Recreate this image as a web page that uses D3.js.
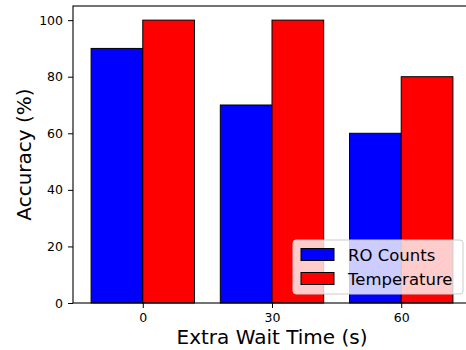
<!DOCTYPE html>
<html lang="en">
<head>
<meta charset="utf-8">
<script src="https://cdn.jsdelivr.net/npm/d3@7"></script>
<style>
  body { margin: 0; background: #fff; }
  text { font-family: "DejaVu Sans", sans-serif; }
</style>
</head>
<body>
<svg width="466" height="350"></svg>
<script>
// data
var categories = ["0", "30", "60"];
var roCounts = [90, 70, 60];
var temperature = [100, 100, 80];
var yTicks = [0, 20, 40, 60, 80, 100];
var seriesNames = ["RO Counts", "Temperature"];
var seriesColors = ["#0000ff", "#ff0000"];

// plot area (right side runs past the window edge like the original)
var box = {left: 73, top: 6, right: 471, bottom: 303};

var svg = d3.select("svg");

// x as numeric positions 0,1,2 with bars of width 0.4
var x = d3.scaleLinear().domain([-0.54, 2.54]).range([box.left, box.right]);
var y = d3.scaleLinear().domain([0, 105]).range([box.bottom, box.top]);
var bw = 0.4;

var rows = categories.map(function(c, i) {
  return { cat: c, i: i, vals: [roCounts[i], temperature[i]] };
});

// bars
var g = svg.append("g");
rows.forEach(function(r) {
  r.vals.forEach(function(v, s) {
    var x0 = x(r.i - bw + s * bw);
    g.append("rect")
      .attr("x", x0)
      .attr("y", y(v))
      .attr("width", x(r.i + s * bw) - x0)
      .attr("height", y(0) - y(v))
      .attr("fill", seriesColors[s])
      .attr("stroke", "#000")
      .attr("stroke-width", 1);
  });
});

// axes
var xAxis = d3.axisBottom(x)
  .tickValues(d3.range(categories.length))
  .tickFormat(function(d) { return categories[d]; })
  .tickSize(5).tickPadding(5);
var yAxis = d3.axisLeft(y).tickValues(yTicks).tickSize(5).tickPadding(5);

svg.append("g").attr("transform", "translate(0," + box.bottom + ")").call(xAxis)
  .call(function(a) { a.select(".domain").remove(); });
svg.append("g").attr("transform", "translate(" + box.left + ",0)").call(yAxis)
  .call(function(a) { a.select(".domain").remove(); });

svg.selectAll(".tick text").style("font-size", "12.5px").attr("fill", "#000");
svg.selectAll(".tick line").attr("stroke", "#000");

// frame
svg.append("rect")
  .attr("x", box.left).attr("y", box.top)
  .attr("width", box.right - box.left).attr("height", box.bottom - box.top)
  .attr("fill", "none").attr("stroke", "#000").attr("stroke-width", 1.1);

// axis labels
svg.append("text")
  .attr("x", (box.left + box.right) / 2).attr("y", 344)
  .attr("text-anchor", "middle")
  .style("font-size", "20px")
  .text("Extra Wait Time (s)");

svg.append("text")
  .attr("transform", "translate(31," + (box.top + box.bottom) / 2 + ") rotate(-90)")
  .attr("text-anchor", "middle")
  .style("font-size", "20px")
  .text("Accuracy (%)");

// legend
var leg = svg.append("g");
leg.append("rect")
  .attr("x", 293).attr("y", 240).attr("width", 170).attr("height", 54)
  .attr("rx", 3)
  .attr("fill", "#fff").attr("fill-opacity", 0.8)
  .attr("stroke", "#ccc").attr("stroke-width", 1);
seriesNames.forEach(function(name, i) {
  leg.append("rect")
    .attr("x", 301).attr("y", 248.5 + i * 24)
    .attr("width", 33).attr("height", 12)
    .attr("fill", seriesColors[i]).attr("stroke", "#000").attr("stroke-width", 1);
  leg.append("text")
    .attr("x", 348).attr("y", 260.5 + i * 24)
    .style("font-size", "16.5px")
    .text(name);
});
</script>
</body>
</html>
